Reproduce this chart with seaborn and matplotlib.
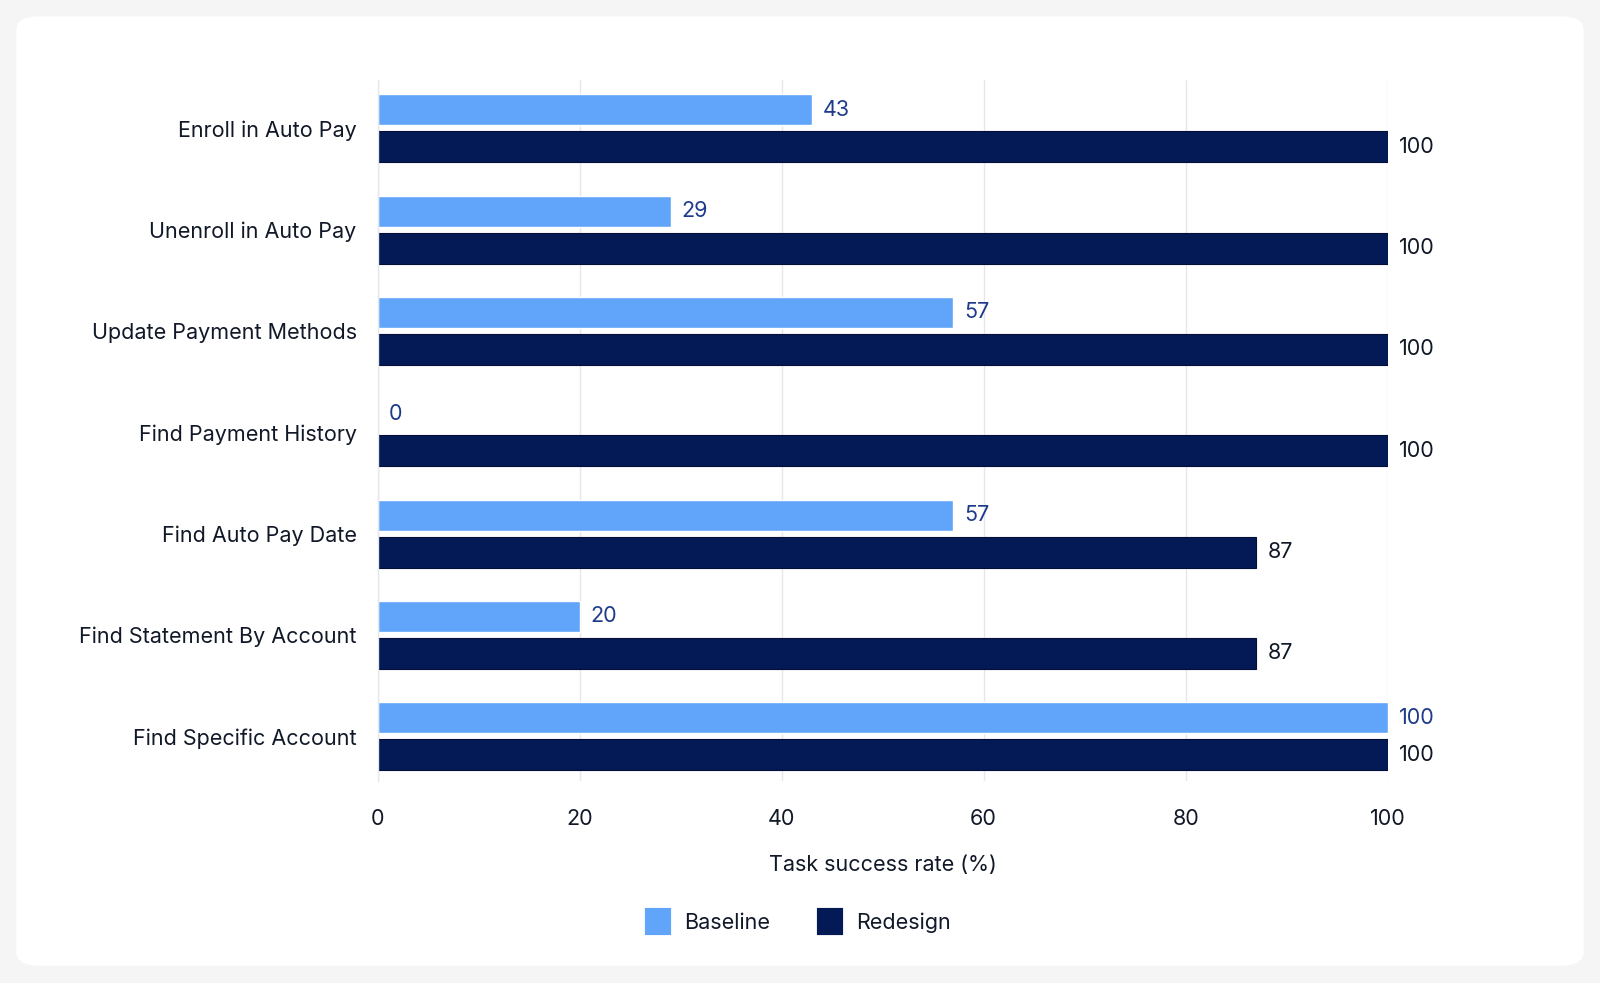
import matplotlib
matplotlib.use("Agg")
import matplotlib.pyplot as plt
from matplotlib.patches import FancyBboxPatch, Patch
import seaborn as sns
import pandas as pd

tasks = ["Enroll in Auto Pay", "Unenroll in Auto Pay", "Update Payment Methods",
         "Find Payment History", "Find Auto Pay Date", "Find Statement By Account",
         "Find Specific Account"]
baseline = [43, 29, 57, 0, 57, 20, 100]
redesign = [100, 100, 100, 100, 87, 87, 100]
series = ["Baseline", "Redesign"]
colors = ["#60A5FA", "#031A56"]
label_colors = ["#1E3A8A", "#111827"]
xticks = [0, 20, 40, 60, 80, 100]

df = pd.DataFrame({
    "task": tasks * 2,
    "value": baseline + redesign,
    "series": [series[0]] * len(tasks) + [series[1]] * len(tasks),
})

sns.set_theme(style="white")
plt.rcParams["font.family"] = ["Inter", "DejaVu Sans"]

W, H = 1568.0, 963.0  # layout reference grid
fig = plt.figure(figsize=(16, 9.83), dpi=100)
fig.patch.set_facecolor("#F5F5F5")
card = FancyBboxPatch((16 / W, 1 - 946 / H), (1552 - 16) / W, (946 - 16) / H,
                      boxstyle="round,pad=0,rounding_size=0.014",
                      transform=fig.transFigure, facecolor="white", edgecolor="none",
                      zorder=-10)
fig.patches.append(card)

ax = fig.add_axes([370 / W, 1 - 765 / H, (1360 - 370) / W, (765 - 78) / H])
ax.set_zorder(5)
ax.set_facecolor("none")

sns.barplot(data=df, y="task", x="value", hue="series", palette=colors,
            order=tasks, hue_order=series, orient="h", width=0.73, gap=0.16,
            ax=ax, legend=False, saturation=1)

for bar in ax.containers[1]:
    bar.set_edgecolor("#020F38")
    bar.set_linewidth(0.8)

fs = 15.5
for cont, lc in zip(ax.containers, label_colors):
    ax.bar_label(cont, labels=[f"{v:g}" for v in cont.datavalues], padding=8,
                 fontsize=fs, color=lc)

ax.set_xlim(0, 100)
ax.set_ylim(6.44, -0.48)
ax.set_xticks(xticks)
ax.set_xticklabels([str(t) for t in xticks])
ax.grid(axis="x", color="#E5E7EB", linewidth=1)
ax.set_axisbelow(True)
for s in ["top", "right", "bottom"]:
    ax.spines[s].set_visible(False)
ax.spines["left"].set_color("#E5E7EB")
ax.spines["left"].set_linewidth(1)

ax.tick_params(axis="x", length=0, pad=20, labelsize=fs, labelcolor="#111827")
ax.tick_params(axis="y", length=0, pad=15, labelsize=fs, labelcolor="#111827")
ax.set_yticks([i + 0.5 for i in range(len(tasks) - 1)], minor=True)
ax.tick_params(axis="y", which="minor", length=5, color="#D1D5DB", width=1)

ax.set_ylabel("")
ax.set_xlabel("Task success rate (%)", fontsize=fs, color="#111827", labelpad=19)

handles = [Patch(facecolor=c, edgecolor=c, linewidth=3, joinstyle="round", label=s)
           for c, s in zip(colors, series)]
leg = fig.legend(handles=handles, loc="center", bbox_to_anchor=(783 / W, 1 - 903 / H),
                 ncol=2, frameon=False, fontsize=fs, handlelength=1.0, handleheight=1.3,
                 columnspacing=2.3, handletextpad=0.7, labelcolor="#111827")

fig.savefig("out.png", dpi=100, facecolor=fig.get_facecolor())
